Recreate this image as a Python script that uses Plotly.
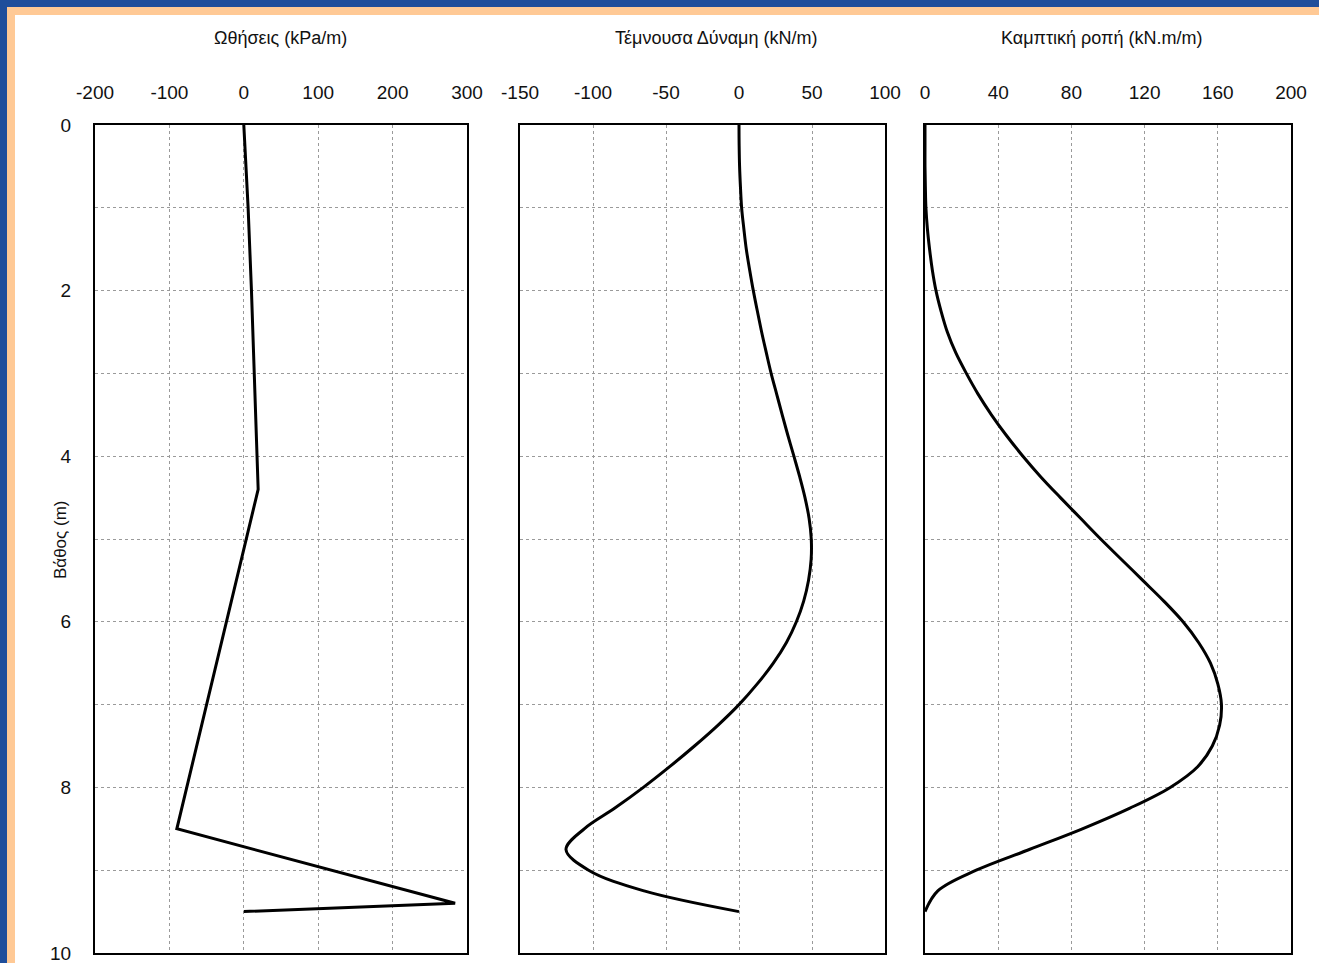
import plotly.graph_objects as go

W, H = 1319, 963

# ---- data ----
press_depth = [0, 1, 2, 3, 4, 4.4, 8.5, 9.4, 9.5]
press_val = [0, 5.8, 10.3, 13.9, 17, 19.3, -90, 284, 0]

shear_depth = [0, 0.25, 0.5, 0.75, 1.0, 1.25, 1.5, 1.75, 2.0, 2.25, 2.5, 2.75, 3.0, 3.25, 3.5, 3.75,
               4.0, 4.25, 4.5, 4.75, 5.0, 5.25, 5.5, 5.75, 6.0, 6.25, 6.5, 6.75, 7.0, 7.25, 7.5, 7.75,
               8.0, 8.25, 8.5, 8.75, 9.0, 9.25, 9.5]
shear_val = [0, 0.1, 0.4, 1.0, 1.8, 3.3, 5.0, 7.3, 9.8, 12.6, 15.5, 18.7, 22.0, 25.8, 29.6, 33.5,
             37.6, 41.6, 45.2, 48.0, 49.5, 49.4, 47.6, 44.3, 39.3, 32.5, 23.5, 12.5, 0.0, -14.5, -30.5, -47.5,
             -65.5, -85.0, -106.0, -118.5, -103.0, -65.0, 0]

mom_depth = [0, 0.25, 0.5, 0.75, 1.0, 1.25, 1.5, 1.75, 2.0, 2.25, 2.5, 2.75, 3.0, 3.25, 3.5, 3.75,
             4.0, 4.25, 4.5, 4.75, 5.0, 5.25, 5.5, 5.75, 6.0, 6.25, 6.5, 6.75, 7.0, 7.25, 7.5, 7.75,
             8.0, 8.25, 8.5, 8.75, 9.0, 9.25, 9.5]
mom_val = [0, 0, 0, 0.2, 0.5, 1.3, 2.5, 4.0, 6.0, 8.8, 12.2, 16.8, 22.6, 29.0, 36.3, 44.5,
           53.5, 63.3, 74.0, 85.0, 96.0, 107.5, 119.0, 130.5, 141.0, 149.5, 156.0, 160.0, 162.0, 161.0, 157.0, 149.0,
           134.0, 112.0, 86.0, 57.0, 28.0, 7.0, 0]

titles = ["Ωθήσεις (kPa/m)", "Τέμνουσα Δύναμη (kN/m)", "Καμπτική ροπή (kN.m/m)"]
x_ranges = [[-200, 300], [-150, 100], [0, 200]]
x_ticks = [[-200, -100, 0, 100, 200, 300], [-150, -100, -50, 0, 50, 100], [0, 40, 80, 120, 160, 200]]
y_ticks = list(range(0, 11))
y_ticktext = [str(v) if v % 2 == 0 else "" for v in y_ticks]
y_label = "Βάθος (m)"

FONT = "Arial, Liberation Sans, sans-serif"

# panel pixel boxes
px_x = [(95, 467), (520, 885), (925, 1291)]
px_y = (125, 953)

fig = go.Figure()

series = [(press_val, press_depth, "linear"), (shear_val, shear_depth, "spline"), (mom_val, mom_depth, "spline")]
for i, (xv, yv, shape) in enumerate(series):
    sfx = "" if i == 0 else str(i + 1)
    line = dict(color="black", width=3, shape=shape)
    if shape == "spline":
        line["smoothing"] = 1.0
    fig.add_trace(go.Scatter(
        x=xv, y=yv, mode="lines", line=line,
        xaxis="x" + sfx, yaxis="y" + sfx, showlegend=False, hoverinfo="skip"))

ydom = [1 - px_y[1] / H, 1 - px_y[0] / H]
for i in range(3):
    sfx = "" if i == 0 else str(i + 1)
    xdom = [px_x[i][0] / W, px_x[i][1] / W]
    fig.update_layout(**{
        "xaxis" + sfx: dict(
            domain=xdom, range=x_ranges[i], side="top", anchor="y" + sfx,
            tickvals=x_ticks[i], ticktext=[str(v) for v in x_ticks[i]],
            ticks="", ticklabelstandoff=16, automargin=False, ticklabeloverflow="allow",
            showgrid=True, gridcolor="#9a9a9a", griddash="dot", gridwidth=1,
            zeroline=False, showline=True, mirror=True, linecolor="black", linewidth=2,
            tickfont=dict(family=FONT, size=19, color="#111")),
        "yaxis" + sfx: dict(
            domain=ydom, range=[10, 0], anchor="x" + sfx,
            tickvals=y_ticks, ticktext=y_ticktext if i == 0 else [""] * len(y_ticks),
            ticks="", ticklabelstandoff=18, automargin=False, ticklabeloverflow="allow",
            showgrid=True, gridcolor="#9a9a9a", griddash="dot", gridwidth=1,
            zeroline=False, showline=True, mirror=True, linecolor="black", linewidth=2,
            tickfont=dict(family=FONT, size=19, color="#111")),
    })

annotations = []
title_cx = [280, 716, 1102]
for i, t in enumerate(titles):
    annotations.append(dict(text=t, x=title_cx[i] / W, y=1 - 38 / H, xref="paper", yref="paper",
                            showarrow=False, xanchor="center", yanchor="middle",
                            font=dict(family=FONT, size=18, color="#111")))
annotations.append(dict(text=y_label, x=60 / W, y=1 - 540 / H, xref="paper", yref="paper",
                        showarrow=False, textangle=-90, xanchor="center", yanchor="middle",
                        font=dict(family=FONT, size=17, color="#111")))

shapes = [
    dict(type="rect", xref="paper", yref="paper", x0=7 / W, x1=1.01, y0=-0.01, y1=1 - 7 / H,
         fillcolor="#ffc995", line=dict(width=0), layer="below"),
    dict(type="rect", xref="paper", yref="paper", x0=15 / W, x1=1.01, y0=-0.01, y1=1 - 15 / H,
         fillcolor="white", line=dict(width=0), layer="below"),
]

fig.update_layout(
    width=W, height=H, margin=dict(l=0, r=0, t=0, b=0, pad=0, autoexpand=False),
    paper_bgcolor="#1f4e9b", plot_bgcolor="white",
    annotations=annotations, shapes=shapes,
    font=dict(family=FONT),
)

fig.write_html(
    "out.html",
    config={"displayModeBar": False},
    post_script="document.body.style.margin='0';document.body.style.overflow='hidden';",
)
